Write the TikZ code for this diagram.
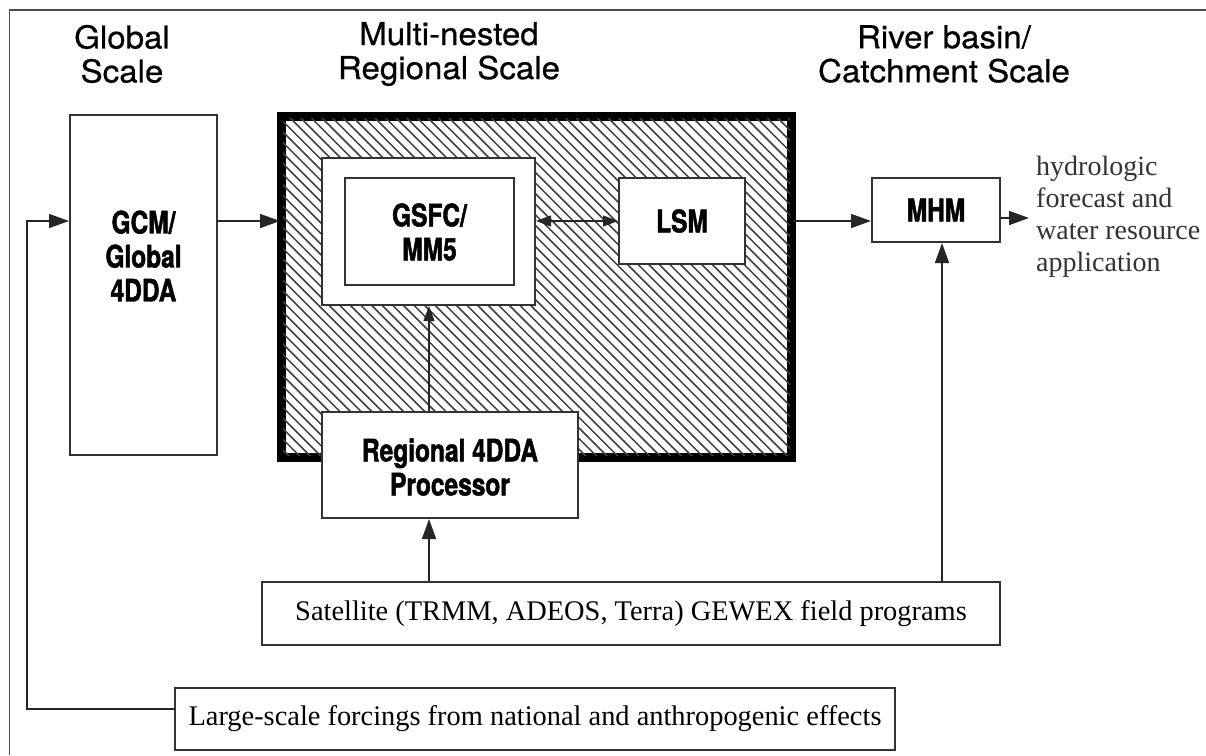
\documentclass[tikz,border=0pt]{standalone}
\usepackage{fontspec}
\setmainfont{Liberation Serif}
\newfontfamily\headf[FakeStretch=1.05,FakeBold=0.6]{TeX Gyre Heros}
\newfontfamily\condf[FakeStretch=0.79,FakeBold=1.5]{TeX Gyre Heros}
\usetikzlibrary{arrows.meta}
\tikzset{
  box/.style={draw=black!80, line width=2pt, fill=white, inner sep=0pt, align=center},
  boxtext/.style={inner sep=0pt, align=center, font=\condf\bfseries\fontsize{31}{34}\selectfont},
  plainbox/.style={draw=black!80, line width=2pt, fill=white, inner sep=0pt, align=center,
    font=\fontsize{28.4}{32}\selectfont},
  heading/.style={align=center, font=\headf\fontsize{31.5}{34}\selectfont},
  arr/.style={line width=1.6pt, draw=black!85, -{Triangle[length=20pt,width=14pt]}},
  thinarr/.style={line width=1.1pt, draw=black!85, -{Triangle[length=15pt,width=11pt]}},
}
\begin{document}
\begin{tikzpicture}[x=1pt,y=-1pt]
\useasboundingbox (0,0) rectangle (1206,755);
\draw[line width=1.4pt, black!70] (9.5,755) -- (9.5,10) -- (1206,10);

% headings
\node[heading] (hg) at (122,54) {Global\\Scale};
\node[heading] (hr) at (449,54) {Multi-nested\\Regional Scale};
\node[heading] (hc) at (944,54) {River basin/\\Catchment Scale};

% boxes
\node[box, minimum width=147pt, minimum height=340pt] (gcm) at (143.5,285) {};
\node[boxtext] (gcmtext) at (143.5,256) {GCM/\\Global\\4DDA};

\node[draw=black, line width=6pt, fill=white, minimum width=507pt, minimum height=338pt, inner sep=0pt] (hatch) at (536.5,286.5) {};
\begin{scope}
  \clip (hatch.north west) rectangle (hatch.south east);
  \foreach \i in {0,...,90} {
    \draw[line width=1.5pt, black!75] ({-110+\i*10.6},110) -- ++(450,450);
  }
\end{scope}
\draw[line width=6pt, black] (hatch.north west) rectangle (hatch.south east);

\node[box, minimum width=213pt, minimum height=147pt] (gsfcout) at (428.5,231.5) {};
\node[box, minimum width=169pt, minimum height=107pt] (gsfcin) at (429.5,231.5) {};
\node[boxtext] (gsfctext) at (429.5,232) {GSFC/\\MM5};
\node[box, minimum width=126pt, minimum height=86pt] (lsm) at (682,221) {};
\node[boxtext] (lsmtext) at (682,221) {LSM};
\node[box, minimum width=256pt, minimum height=106pt] (reg) at (450,465) {};
\node[boxtext] (regtext) at (450,467) {Regional 4DDA\\Processor};
\node[box, minimum width=128pt, minimum height=64pt] (mhm) at (936,210) {};
\node[boxtext] (mhmtext) at (936,210) {MHM};
\node[plainbox, minimum width=738pt, minimum height=63pt] (sat) at (631,613.5) {Satellite (TRMM, ADEOS, Terra) GEWEX field programs};
\node[plainbox, minimum width=720pt, minimum height=62pt] (large) at (535,718.5) {Large-scale forcings from national and anthropogenic effects};
\node[anchor=north west, align=left, inner sep=0pt, text=black!80, font=\fontsize{28}{32}\selectfont] (hydro) at (1036,156)
  {hydrologic\\forecast and\\water resource\\application};

% levels
\coordinate (lvl) at (0,221);
\coordinate (vx) at (429,0);
\coordinate (fb) at (27,0);
\coordinate (mx) at (942,0);
\coordinate (fbout) at (0,709);
\coordinate (outlvl) at (0,218);
\coordinate (tipx) at (1029,0);

% connectors
\draw[arr] (gcm.east |- lvl) -- (hatch.west |- lvl);
\draw[arr] (large.west |- fbout) -- (fb |- fbout) -- (fb |- lvl) -- (gcm.west |- lvl);
\draw[thinarr, {Triangle[length=15pt,width=11pt]}-{Triangle[length=15pt,width=11pt]}] (gsfcout.east |- lsm) -- (lsm.west);
\draw[arr] (hatch.east |- lvl) -- (mhm.west |- lvl);
\draw[arr] (mhm.east |- outlvl) -- (tipx |- outlvl);
\draw[thinarr] (reg.north -| vx) -- (gsfcout.south -| vx);
\draw[arr] (sat.north -| vx) -- (reg.south -| vx);
\draw[arr] (sat.north -| mx) -- (mhm.south -| mx);
\end{tikzpicture}
\end{document}
